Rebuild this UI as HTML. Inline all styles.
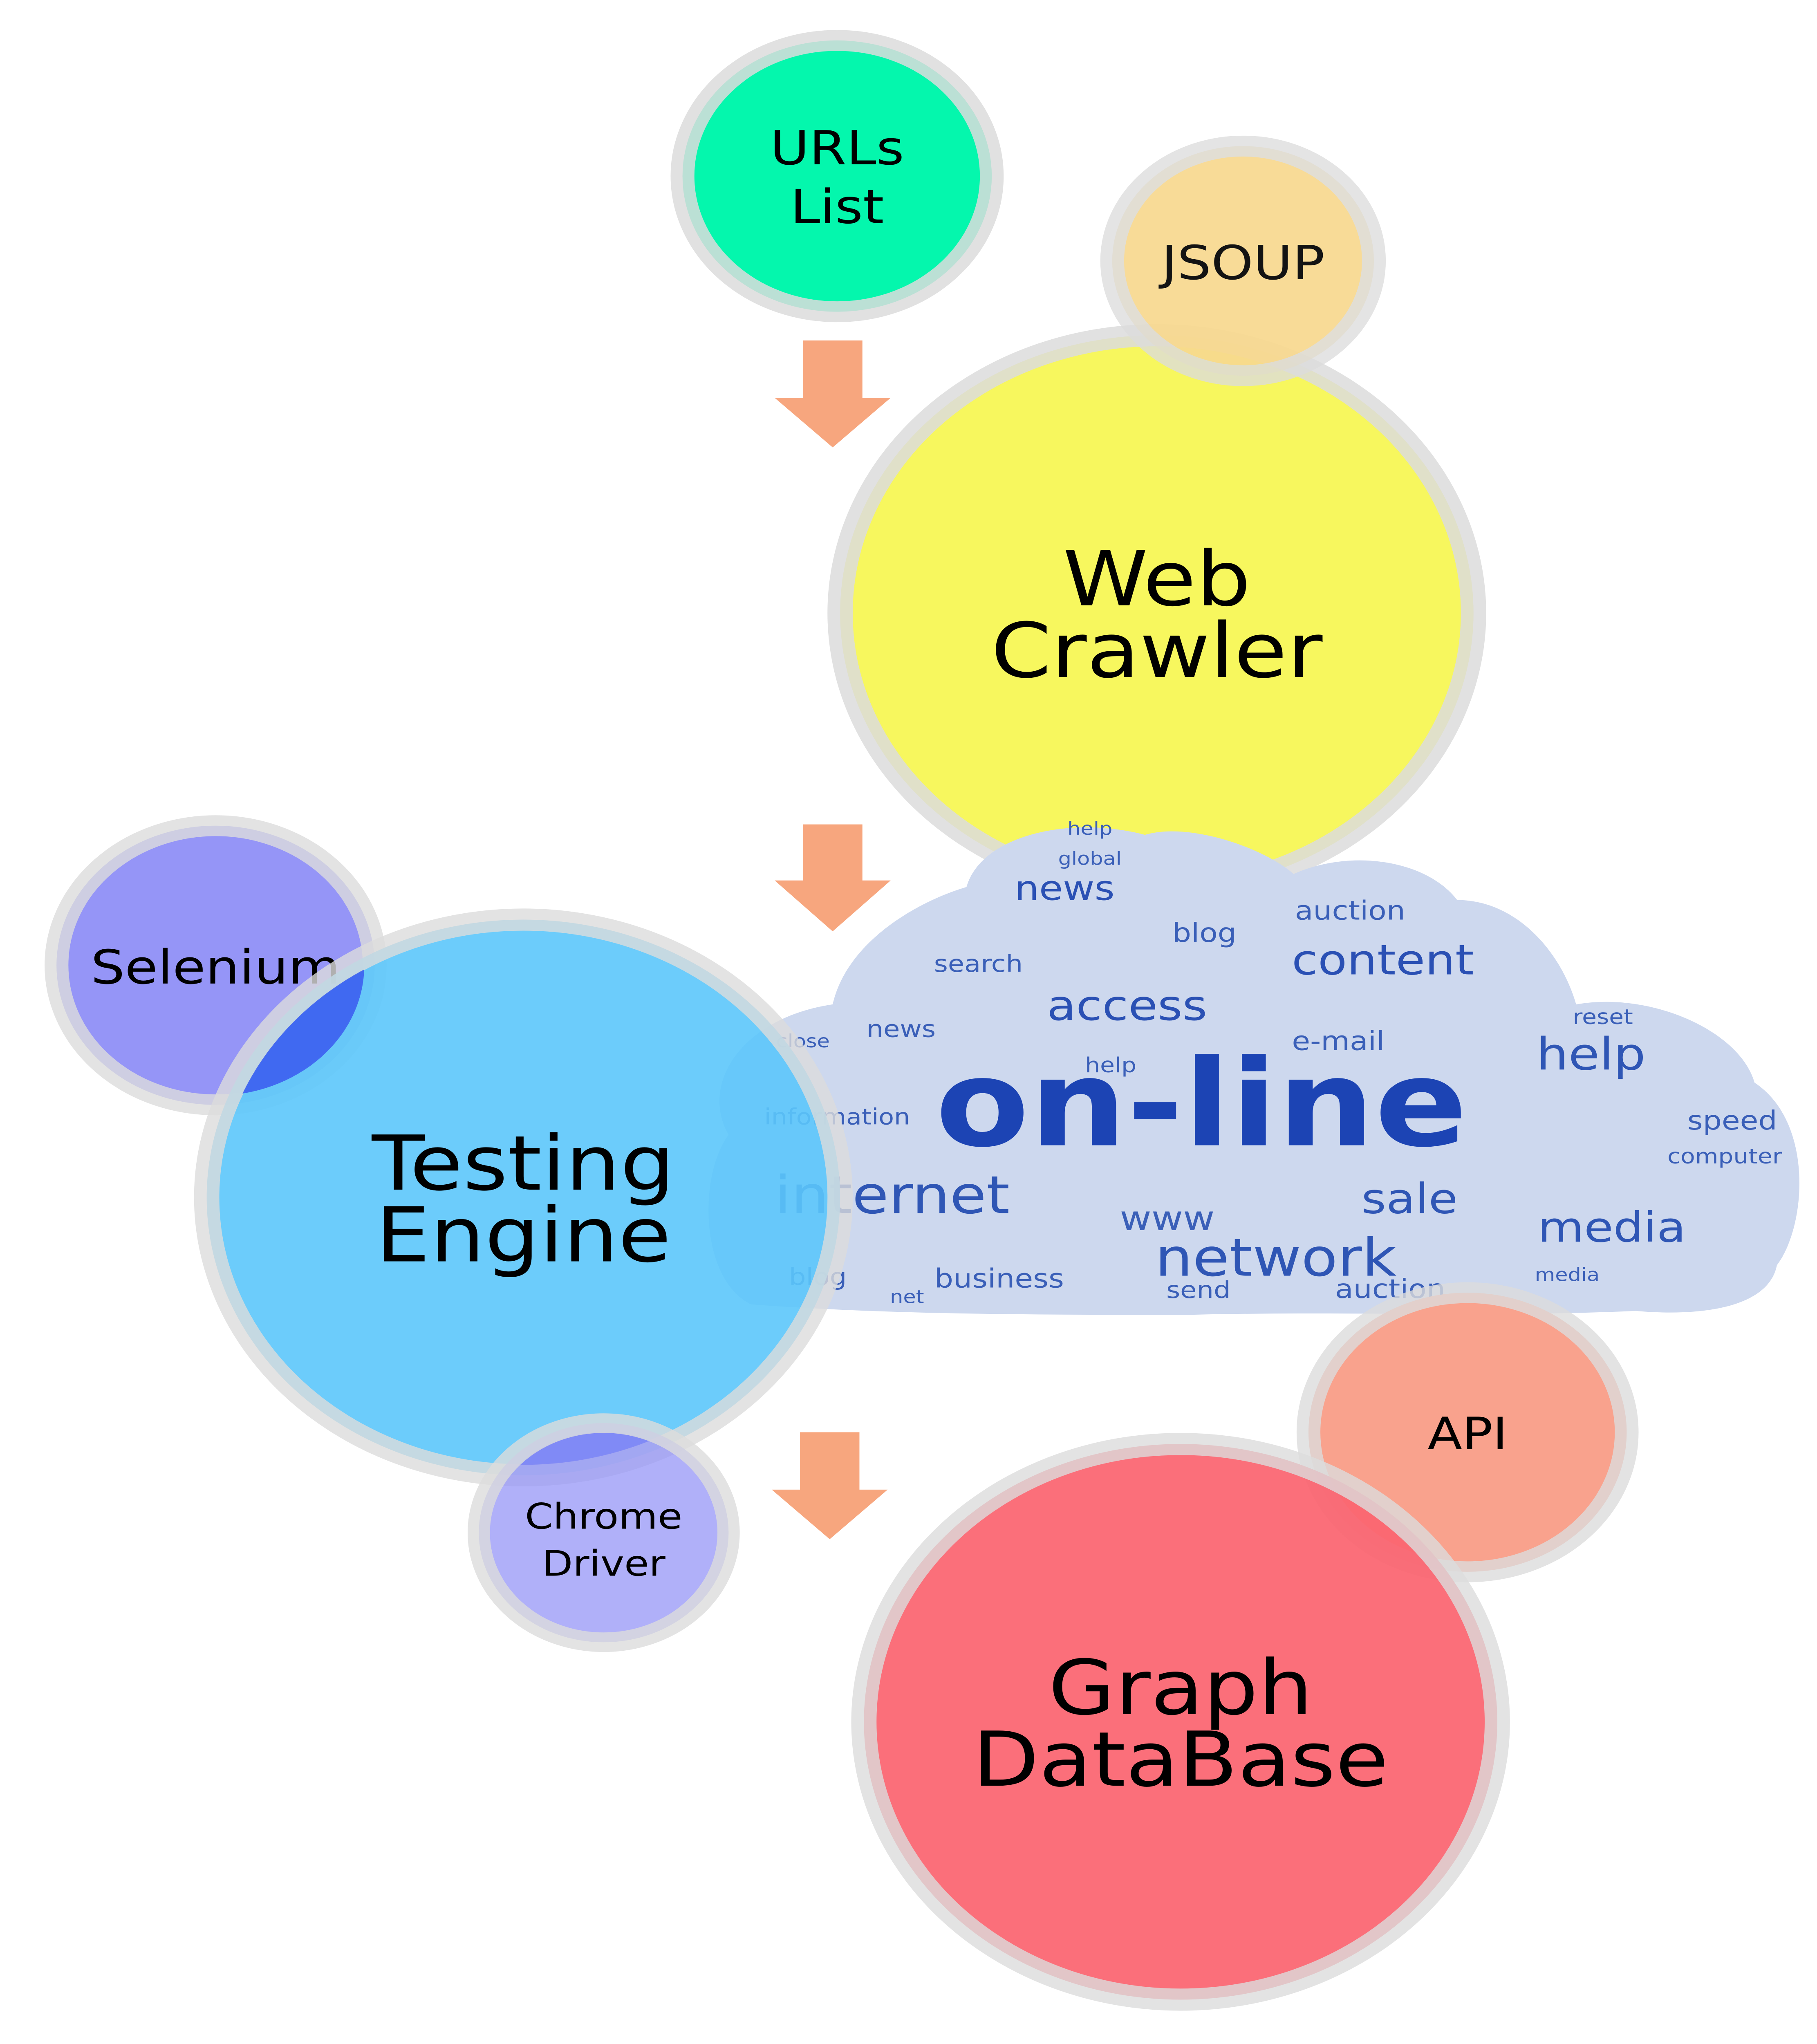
<!DOCTYPE html>
<html><head><meta charset="utf-8"><meta name="viewport" content="width=4445, initial-scale=1"><style>
html,body{margin:0;padding:0;background:#fff;width:100vw;height:100vh;overflow:hidden;}
svg{display:block;position:absolute;left:0;top:0;width:100vw;height:100vh;}
text{font-family:"DejaVu Sans","Liberation Sans",sans-serif;}
</style></head><body>
<svg viewBox="0 0 1222 1567" preserveAspectRatio="none" xmlns="http://www.w3.org/2000/svg">
<defs>
<clipPath id="teClip"><circle cx="352" cy="918" r="205"/></clipPath>
</defs>
<rect width="1222" height="1567" fill="#fff"/>

<g fill="#f7a67e"><polygon points="540,261 580,261 580,305 599,305 560,343 521,305 540,305"/></g>
<g fill="#f7a67e"><polygon points="540,632 580,632 580,675 599,675 560,714 521,675 540,675"/></g>
<g fill="#f7a67e"><polygon points="538,1098 578,1098 578,1142 597,1142 558,1180 519,1142 538,1142"/></g>

<g>
<circle cx="563" cy="135" r="104" fill="#04f7ad" stroke="#dcdcdc" stroke-opacity="0.85" stroke-width="16"/>
<text x="563" y="126" font-size="36" text-anchor="middle" fill="#000">URLs</text>
<text x="563" y="171" font-size="36" text-anchor="middle" fill="#000">List</text>
</g>

<g>
<circle cx="778" cy="470" r="213" fill="#f7f75e" stroke="#dcdcdc" stroke-opacity="0.85" stroke-width="17"/>
<text x="778" y="464" font-size="58" text-anchor="middle" fill="#000">Web</text>
<text x="778" y="519" font-size="58" text-anchor="middle" fill="#000">Crawler</text>
</g>

<g opacity="0.92">
<circle cx="836" cy="200" r="88" fill="#f8d98f" stroke="#dcdcdc" stroke-opacity="0.85" stroke-width="16"/>
<text x="836" y="214" font-size="36" text-anchor="middle" fill="#000">JSOUP</text>
</g>

<g>
<path d="M505,1000 C470,980 470,900 490,870 C470,830 500,780 560,770 C570,720 620,690 650,680 C660,640 720,625 770,640 C800,630 850,650 870,670 C910,650 960,660 980,690 C1020,690 1050,730 1060,770 C1110,760 1170,790 1180,830 C1220,860 1215,940 1195,970 C1190,1000 1150,1010 1100,1005 C1000,1010 900,1005 800,1008 C700,1008 600,1008 505,1000 Z" fill="#cdd8ee"/>
<g fill="#3a5fb8" font-family="Liberation Sans, sans-serif">
<text x="808" y="878" font-size="92" font-weight="bold" text-anchor="middle" fill="#1c44b4">on-line</text>
<text x="600" y="930" font-size="40" text-anchor="middle" fill="#2f56b5">internet</text>
<text x="858" y="978" font-size="40" text-anchor="middle" fill="#2f56b5">network</text>
<text x="758" y="782" font-size="32" text-anchor="middle" fill="#2a50b4">access</text>
<text x="930" y="747" font-size="32" text-anchor="middle" fill="#2a50b4">content</text>
<text x="1070" y="820" font-size="34" text-anchor="middle" fill="#2f56b5">help</text>
<text x="1084" y="952" font-size="32" text-anchor="middle" fill="#2f56b5">media</text>
<text x="948" y="930" font-size="32" text-anchor="middle" fill="#2f56b5">sale</text>
<text x="716" y="690" font-size="26" text-anchor="middle" fill="#2a50b4">news</text>
<text x="908" y="705" font-size="20" text-anchor="middle">auction</text>
<text x="810" y="722" font-size="20" text-anchor="middle">blog</text>
<text x="1165" y="866" font-size="20" text-anchor="middle">speed</text>
<text x="1160" y="892" font-size="16" text-anchor="middle">computer</text>
<text x="900" y="805" font-size="20" text-anchor="middle">e-mail</text>
<text x="785" y="943" font-size="26" text-anchor="middle">www</text>
<text x="672" y="987" font-size="20" text-anchor="middle">business</text>
<text x="935" y="995" font-size="20" text-anchor="middle">auction</text>
<text x="563" y="862" font-size="17" text-anchor="middle">information</text>
<text x="658" y="745" font-size="18" text-anchor="middle">search</text>
<text x="606" y="795" font-size="18" text-anchor="middle">news</text>
<text x="550" y="985" font-size="18" text-anchor="middle">blog</text>
<text x="806" y="995" font-size="18" text-anchor="middle">send</text>
<text x="1078" y="785" font-size="16" text-anchor="middle">reset</text>
<text x="733" y="640" font-size="14" text-anchor="middle">help</text>
<text x="733" y="663" font-size="14" text-anchor="middle">global</text>
<text x="747" y="822" font-size="16" text-anchor="middle">help</text>
<text x="610" y="999" font-size="14" text-anchor="middle">net</text>
<text x="1054" y="982" font-size="14" text-anchor="middle">media</text>
<text x="540" y="803" font-size="14" text-anchor="middle">close</text>
</g>
</g>

<g>
<circle cx="145" cy="740" r="107" fill="#9595f7" stroke="#dcdcdc" stroke-opacity="0.8" stroke-width="16"/>
<text x="145" y="754" font-size="36" text-anchor="middle" fill="#000">Selenium</text>
</g>

<g>
<circle cx="352" cy="918" r="213" fill="#5cc6fb" fill-opacity="0.9" stroke="#dcdcdc" stroke-opacity="0.8" stroke-width="17"/>
<g clip-path="url(#teClip)">
<circle cx="145" cy="740" r="100" fill="#3d5ff0" opacity="0.9"/>
<circle cx="406" cy="1175" r="77" fill="#3d5ff0" opacity="0.9"/>
</g>
<text x="352" y="912" font-size="58" text-anchor="middle" fill="#000">Testing</text>
<text x="352" y="967" font-size="58" text-anchor="middle" fill="#000">Engine</text>
</g>

<g>
<circle cx="987" cy="1098" r="107" fill="#f9a28d" stroke="#dcdcdc" stroke-opacity="0.8" stroke-width="16"/>
</g>

<g>
<circle cx="794" cy="1320" r="213" fill="#fb6470" fill-opacity="0.93" stroke="#dcdcdc" stroke-opacity="0.8" stroke-width="17"/>
<text x="794" y="1314" font-size="58" text-anchor="middle" fill="#000">Graph</text>
<text x="794" y="1369" font-size="58" text-anchor="middle" fill="#000">DataBase</text>
</g>
<text x="987" y="1111" font-size="34" text-anchor="middle" fill="#000">API</text>

<g>
<circle cx="406" cy="1175" r="84" fill="#9595f7" fill-opacity="0.75" stroke="#dcdcdc" stroke-opacity="0.8" stroke-width="15"/>
<text x="406" y="1172" font-size="27" text-anchor="middle" fill="#000">Chrome</text>
<text x="406" y="1208" font-size="27" text-anchor="middle" fill="#000">Driver</text>
</g>
</svg>
</body></html>
